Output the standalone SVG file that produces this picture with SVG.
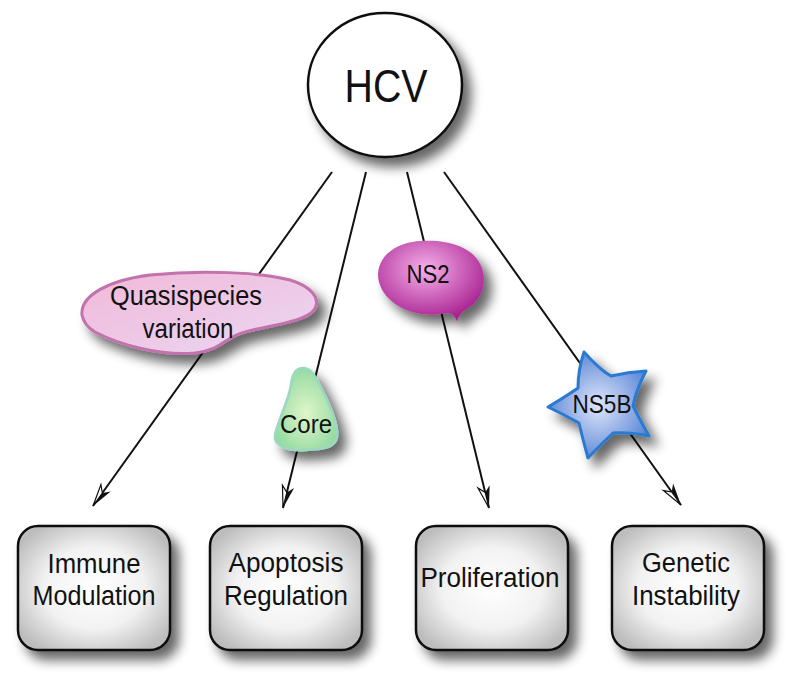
<svg xmlns="http://www.w3.org/2000/svg" width="800" height="680" viewBox="0 0 800 680">
<style>
.t{font-family:"Liberation Sans","Open Sans","Noto Sans",sans-serif;fill:#111;text-anchor:middle}
.box{stroke:#111;stroke-width:2.5;fill:url(#gBox)}
.conn{stroke:#111;stroke-width:2;fill:none;marker-end:url(#arr)}
</style>
<defs>
<filter id="sh" x="-30%" y="-30%" width="170%" height="170%">
<feGaussianBlur in="SourceAlpha" stdDeviation="6"/>
<feOffset dx="8" dy="9" result="b"/>
<feComponentTransfer><feFuncA type="linear" slope="0.6"/></feComponentTransfer>
<feMerge><feMergeNode/><feMergeNode in="SourceGraphic"/></feMerge>
</filter>
<radialGradient id="gBox" cx="0.5" cy="0.5" r="0.6">
<stop offset="0" stop-color="#ffffff"/><stop offset="0.55" stop-color="#f2f2f2"/><stop offset="1" stop-color="#bdbdbd"/>
</radialGradient>
<linearGradient id="gQ" x1="0" y1="0" x2="1" y2="1">
<stop offset="0" stop-color="#f2b8d8"/><stop offset="1" stop-color="#ead8f4"/>
</linearGradient>
<radialGradient id="gCore" cx="0.5" cy="0.55" r="0.6">
<stop offset="0" stop-color="#e0f6c8"/><stop offset="1" stop-color="#8ed8a0"/>
</radialGradient>
<radialGradient id="gNS2" cx="0.45" cy="0.35" r="0.65">
<stop offset="0" stop-color="#f6b0ea"/><stop offset="1" stop-color="#a82090"/>
</radialGradient>
<radialGradient id="gNS5B" cx="0.5" cy="0.5" r="0.55">
<stop offset="0" stop-color="#dfe6fa"/><stop offset="1" stop-color="#5884d6"/>
</radialGradient>
<marker id="arr" markerUnits="userSpaceOnUse" markerWidth="30" markerHeight="20" viewBox="-24 -10 26 20" refX="0" refY="0" orient="auto">
<path d="M0,0 L-22,-6 L-16,0 Z" fill="#111"/>
<path d="M0,0 L-22,6 L-16,0 Z" fill="#fff" stroke="#111" stroke-width="1.2" stroke-linejoin="miter"/>
</marker>
</defs>
<rect width="800" height="680" fill="#fff"/>

<g id="connectors">
<line class="conn" x1="332" y1="172" x2="93" y2="506"/>
<line class="conn" x1="366" y1="172" x2="283" y2="508"/>
<line class="conn" x1="407" y1="172" x2="489" y2="508"/>
<line class="conn" x1="444" y1="172" x2="681" y2="505"/>
</g>

<g id="hcv">
<ellipse cx="385" cy="85" rx="77" ry="72" fill="#fff" stroke="#111" stroke-width="2.5" filter="url(#sh)"/>
<text class="t" x="386" y="102" font-size="47" textLength="83" lengthAdjust="spacingAndGlyphs">HCV</text>
</g>

<g id="quasispecies">
<path d="M82,315 C80,295 110,280 150,275 C200,270 260,272 290,280 C310,286 322,298 314,310 C305,322 270,325 245,332 C225,337 222,350 195,353 C160,356 120,345 95,332 C85,326 83,320 82,315 Z" fill="url(#gQ)" stroke="#c272ac" stroke-width="3" filter="url(#sh)"/>
<text class="t" x="186" y="305" font-size="27" textLength="152" lengthAdjust="spacingAndGlyphs">Quasispecies</text>
<text class="t" x="188" y="338" font-size="27" textLength="91" lengthAdjust="spacingAndGlyphs">variation</text>
</g>

<g id="core">
<path d="M303,368 C296,368 292,375 291,385 C289,400 278,420 275,435 C273,447 290,451 305,450 C320,449 335,449 337,437 C339,425 328,400 318,382 C313,372 309,368 303,368 Z" fill="url(#gCore)" stroke="#9cd8c0" stroke-width="2.5" filter="url(#sh)"/>
<text class="t" x="306" y="433" font-size="25" textLength="52" lengthAdjust="spacingAndGlyphs">Core</text>
</g>

<g id="ns2">
<path d="M457,322 C455,314 450,312 442,314 C415,318 385,305 379,282 C374,260 392,243 420,241 C450,239 478,248 483,272 C487,292 475,305 465,310 C459,314 458,318 457,322 Z" fill="url(#gNS2)" filter="url(#sh)"/>
<text class="t" x="428" y="283" font-size="25" textLength="43" lengthAdjust="spacingAndGlyphs">NS2</text>
</g>

<g id="ns5b">
<path d="M584,352 Q600,370 611,376 Q628,372 646,371 Q636,390 633,406 Q640,420 649,436 Q628,432 613,433 Q600,445 588,458 Q583,440 579,423 Q565,415 548,407 Q565,397 578,388 Q578,370 584,352 Z" fill="url(#gNS5B)" stroke="#2a7ad0" stroke-width="3" stroke-linejoin="round" filter="url(#sh)"/>
<text class="t" x="602" y="413" font-size="25" textLength="59" lengthAdjust="spacingAndGlyphs">NS5B</text>
</g>

<g id="immune">
<rect class="box" x="18" y="526" width="152" height="124" rx="20" filter="url(#sh)"/>
<text class="t" x="94" y="573" font-size="27" textLength="93" lengthAdjust="spacingAndGlyphs">Immune</text>
<text class="t" x="94" y="605" font-size="27" textLength="123" lengthAdjust="spacingAndGlyphs">Modulation</text>
</g>

<g id="apoptosis">
<rect class="box" x="210" y="526" width="152" height="124" rx="20" filter="url(#sh)"/>
<text class="t" x="286" y="572" font-size="27" textLength="115" lengthAdjust="spacingAndGlyphs">Apoptosis</text>
<text class="t" x="286" y="605" font-size="27" textLength="124" lengthAdjust="spacingAndGlyphs">Regulation</text>
</g>

<g id="proliferation">
<rect class="box" x="416" y="526" width="152" height="124" rx="20" filter="url(#sh)"/>
<text class="t" x="490" y="587" font-size="27" textLength="139" lengthAdjust="spacingAndGlyphs">Proliferation</text>
</g>

<g id="genetic">
<rect class="box" x="612" y="526" width="152" height="124" rx="20" filter="url(#sh)"/>
<text class="t" x="686" y="572" font-size="27" textLength="88" lengthAdjust="spacingAndGlyphs">Genetic</text>
<text class="t" x="686" y="605" font-size="27" textLength="108" lengthAdjust="spacingAndGlyphs">Instability</text>
</g>
</svg>
